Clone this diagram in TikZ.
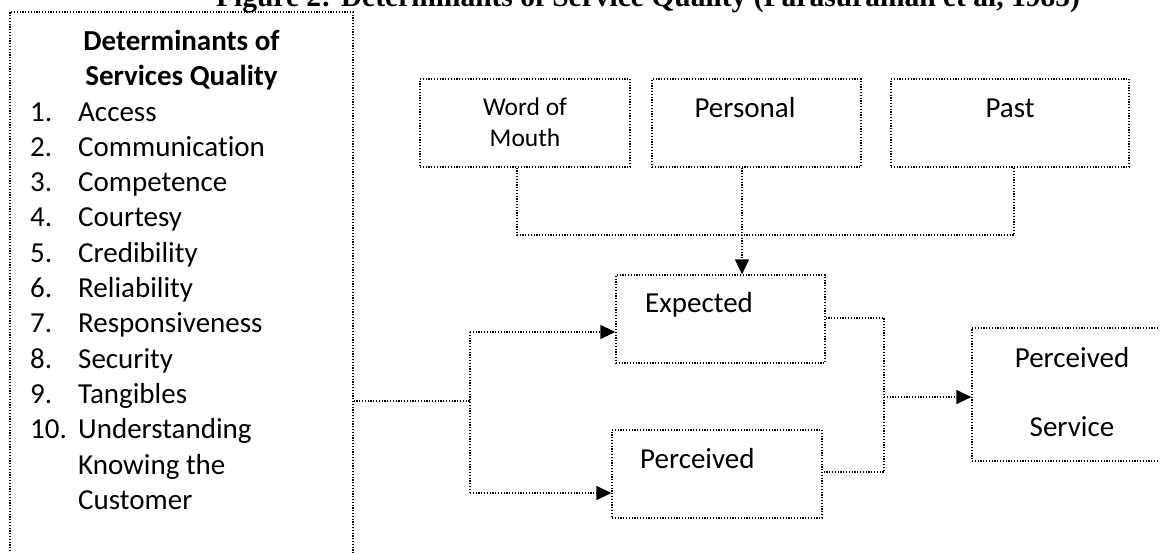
\documentclass[tikz,border=0pt]{standalone}
\usepackage{fontspec}
\setmainfont{Carlito}[Ligatures=CommonOff]
\newfontfamily\titlefont{Liberation Serif}
\usetikzlibrary{arrows.meta}
\begin{document}
\begin{tikzpicture}[x=1pt,y=-1pt,
  dotline/.style={line width=1.2pt,dash pattern=on 1.2pt off 1.6pt},
  box/.style={draw,dotline,rectangle,inner sep=0pt},
  arr/.style={dotline,-{Triangle[length=15pt,width=14pt]}},
  txt/.style={inner sep=0pt,font=\fontsize{29}{35}\selectfont},
  smalltxt/.style={inner sep=0pt,font=\fontsize{25.5}{31}\selectfont},
  headtxt/.style={inner sep=0pt,font=\fontsize{29}{35}\selectfont\bfseries}]
\useasboundingbox (0,0) rectangle (1160,552);

% title (cut off at the top, as in the reference)
\node[anchor=base,inner sep=0pt,font=\titlefont\bfseries\fontsize{29.5}{30}\selectfont] (title) at (648,6)
  {Figure 2: Determinants of Service Quality (Parasuraman et al, 1985)};

% boxes
\node[box,minimum width=343pt,minimum height=778pt] (det) at (181.5,401) {};
\node[box,minimum width=210pt,minimum height=88pt] (wom) at (525,123) {};
\node[box,minimum width=209pt,minimum height=88pt] (personal) at (756.5,123) {};
\node[box,minimum width=238pt,minimum height=88pt] (past) at (1010,123) {};
\node[box,minimum width=209pt,minimum height=88pt] (exp) at (720.5,319) {};
\node[box,minimum width=210pt,minimum height=88pt] (perc) at (717,474) {};
\node[box,minimum width=203pt,minimum height=133pt] (ps) at (1073.5,394.5) {};

% texts of the left box
\node[headtxt,anchor=base] (h1) at (181.5,50.4) {Determinants of};
\node[headtxt,anchor=base] (h2) at (181.5,85.7) {Services Quality};
\foreach \num/\lab [count=\i from 0] in {1./Access,2./Communication,3./Competence,4./Courtesy,5./Credibility,6./Reliability,7./Responsiveness,8./Security,9./Tangibles,10./Understanding}{
  \node[txt,anchor=base west] (num\i) at (30,121+35.3*\i) {\num};
  \node[txt,anchor=base west] (item\i) at (78,121+35.3*\i) {\lab};
}
\node[txt,anchor=base west] (item10) at (78,121+35.3*10) {Knowing the};
\node[txt,anchor=base west] (item11) at (78,121+35.3*11) {Customer};

% texts of the other boxes
\node[smalltxt,anchor=base] (wom1) at (525,115) {Word of};
\node[smalltxt,anchor=base] (wom2) at (525,146) {Mouth};
\node[txt,anchor=base] (personalt) at (745,117) {Personal};
\node[txt,anchor=base] (pastt) at (1010,117) {Past};
\node[txt,anchor=base west] (expt) at (645,312) {Expected};
\node[txt,anchor=base west] (perct) at (640,468) {Perceived};
\node[txt,anchor=base] (ps1) at (1072,367) {Perceived};
\node[txt,anchor=base] (ps2) at (1072,436) {Service};

% junction points
\coordinate (jw) at (517,235);
\coordinate (jp) at (1014,235);
\coordinate (pc) at (742,167);
\coordinate (jl) at (470,401);
\coordinate (jlt) at (470,332);
\coordinate (jlb) at (470,493);
\coordinate (jrt) at (884,318);
\coordinate (jrb) at (884,472);
\coordinate (jrm) at (884,397);

% connectors
\draw[dotline] (wom.south -| jw) -- (jw) -- (jp) -- (past.south -| jp);
\draw[arr] (personal.south -| pc) -- (exp.north -| pc);
\draw[dotline] (det.east) -- (jl);
\draw[dotline] (jlt) -- (jlb);
\draw[arr] (jlt) -- (exp.west |- jlt);
\draw[arr] (jlb) -- (perc.west |- jlb);
\draw[dotline] (exp.east |- jrt) -- (jrt) -- (jrb) -- (perc.east |- jrb);
\draw[arr] (jrm) -- (ps.west |- jrm);
\end{tikzpicture}
\end{document}
